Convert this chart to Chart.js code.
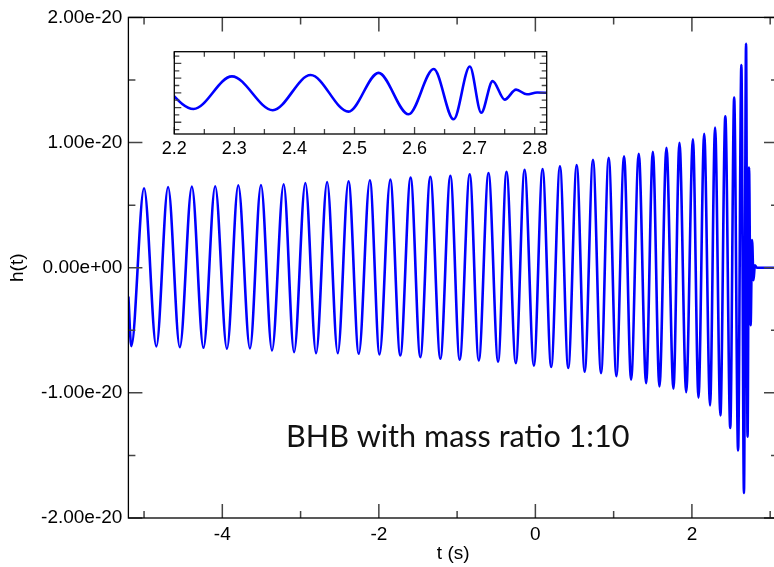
<!DOCTYPE html>
<html><head><meta charset="utf-8">
<script src="https://cdn.jsdelivr.net/npm/chart.js@4.4.0/dist/chart.umd.min.js"></script>
<style>
html,body{margin:0;padding:0;background:#fff;overflow:hidden;width:774px;height:567px;}
#main{position:absolute;left:0;top:0;}
#inset{position:absolute;left:150px;top:40px;}
</style></head><body>
<canvas id="main" width="790" height="567"></canvas>
<canvas id="inset" width="420" height="125"></canvas>
<script>
// waveform extrema: time (s) and strain (units of 1e-20)
const times = [-5.2, -5.163, -5.000, -4.843, -4.693, -4.543, -4.389, -4.241, -4.091, -3.941,
  -3.796, -3.647, -3.506, -3.365, -3.216, -3.083, -2.939, -2.802, -2.661, -2.525,
  -2.388, -2.256, -2.115, -1.991, -1.854, -1.726, -1.594, -1.470, -1.342, -1.214,
  -1.086, -0.967, -0.839, -0.723, -0.599, -0.476, -0.369, -0.250, -0.138, -0.019,
  0.092, 0.202, 0.314, 0.420, 0.528, 0.630, 0.736, 0.839, 0.937, 1.035,
  1.133, 1.223, 1.321, 1.415, 1.501, 1.585, 1.675, 1.764, 1.841, 1.927,
  2.013, 2.084, 2.157, 2.232, 2.296, 2.364, 2.427, 2.490, 2.540, 2.590,
  2.632, 2.665, 2.692, 2.711, 2.730, 2.750, 2.769, 2.787, 2.804, 2.830, 3.100];
const strain = [-0.23, -0.627, 0.635, -0.629, 0.645, -0.635, 0.648, -0.640, 0.651, -0.648,
  0.659, -0.645, 0.661, -0.661, 0.667, -0.675, 0.677, -0.683, 0.685, -0.683,
  0.691, -0.688, 0.699, -0.693, 0.704, -0.701, 0.720, -0.715, 0.727, -0.727,
  0.735, -0.735, 0.747, -0.741, 0.757, -0.751, 0.767, -0.763, 0.783, -0.783,
  0.789, -0.794, 0.810, -0.802, 0.821, -0.831, 0.863, -0.842, 0.879, -0.866,
  0.890, -0.895, 0.911, -0.922, 0.927, -0.948, 0.959, -0.967, 0.998, -0.994,
  1.025, -1.038, 1.07, -1.10, 1.12, -1.18, 1.21, -1.28, 1.36, -1.46,
  1.62, -1.80, 1.79, -1.35, 0.80, -0.46, 0.22, -0.10, 0.02, 0.0, 0.0];

const xMajorTicks = [-4, -2, 0, 2];
const xMinorTicks = [-5, -3, -1, 1, 3];
const yMajorTicks = [-2, -1, 0, 1, 2];
const yMinorTicks = [-1.5, -0.5, 0.5, 1.5];
const yTickLabels = ['-2.00e-20', '-1.00e-20', '0.00e+00', '1.00e-20', '2.00e-20'];

const insetXMajor = [2.2, 2.3, 2.4, 2.5, 2.6, 2.7, 2.8];
const insetXMinor = [2.25, 2.35, 2.45, 2.55, 2.65, 2.75];
const insetYMajor = [-2, -1, 0, 1, 2];
const insetYMinor = [-2.5, -1.5, -0.5, 0.5, 1.5, 2.5];

const annotationText = 'BHB with mass ratio 1:10';

const points = times.map((t, i) => ({x: t, y: strain[i]}));

const frameTicks = {
  id: 'frameTicks',
  beforeDraw(chart, args, o) {
    if (o.bg) {
      const a = chart.chartArea, ctx = chart.ctx;
      ctx.save(); ctx.fillStyle = o.bg;
      ctx.fillRect(a.left, a.top, a.right - a.left, a.bottom - a.top);
      ctx.restore();
    }
  },
  afterDraw(chart, args, o) {
    const {ctx, chartArea: a} = chart;
    const x = chart.scales.x, y = chart.scales.y;
    ctx.save();
    ctx.strokeStyle = o.tickColor; ctx.lineWidth = o.tickWidth;
    ctx.beginPath();
    const vx = (vals, len) => vals.forEach(v => {
      const p = x.getPixelForValue(v);
      ctx.moveTo(p, a.bottom); ctx.lineTo(p, a.bottom - len);
      ctx.moveTo(p, a.top); ctx.lineTo(p, a.top + len);
    });
    const vy = (vals, len) => vals.forEach(v => {
      const p = y.getPixelForValue(v);
      ctx.moveTo(a.left, p); ctx.lineTo(a.left + len, p);
      ctx.moveTo(a.right, p); ctx.lineTo(a.right - len, p);
    });
    vx(o.xMajor, o.majorLen); vx(o.xMinor, o.minorLen);
    vy(o.yMajor, o.majorLen); vy(o.yMinor, o.minorLen);
    ctx.stroke();
    ctx.strokeStyle = o.frameColor; ctx.lineWidth = o.frameWidth;
    ctx.strokeRect(a.left, a.top, a.right - a.left, a.bottom - a.top);
    if (o.text) {
      ctx.font = o.textFont; ctx.fillStyle = o.textColor;
      ctx.textBaseline = 'alphabetic'; ctx.textAlign = 'left';
      ctx.fillText(o.text, o.textX, o.textY);
    }
    ctx.restore();
  }
};

const tickFont = {family: "'Liberation Sans', Arial, sans-serif", size: 19};

new Chart(document.getElementById('main'), {
  type: 'line',
  data: {datasets: [{data: points, borderColor: '#0000ff', borderWidth: 2.6,
    cubicInterpolationMode: 'monotone', pointRadius: 0, fill: false}]},
  plugins: [frameTicks],
  options: {
    responsive: false, animation: false,
    layout: {padding: {left: 0, top: 16, right: 12, bottom: 0}},
    plugins: {
      legend: {display: false}, tooltip: {enabled: false},
      frameTicks: {xMajor: xMajorTicks, xMinor: xMinorTicks, yMajor: yMajorTicks, yMinor: yMinorTicks,
        majorLen: 14, minorLen: 7, tickColor: '#444', tickWidth: 1.5, frameColor: '#000', frameWidth: 1.3,
        text: annotationText, textFont: "30.6px Lato, 'Open Sans', sans-serif", textColor: '#111', textX: 286, textY: 447}
    },
    scales: {
      x: {type: 'linear', min: -5.2, max: 3.1,
        afterBuildTicks: s => { s.ticks = xMajorTicks.map(v => ({value: v})); },
        afterFit: s => { s.height = 49; },
        grid: {display: false, drawTicks: false}, border: {display: false},
        ticks: {font: tickFont, color: '#000', padding: 5, maxRotation: 0, autoSkip: false,
          callback: v => String(v)},
        title: {display: true, text: 't (s)', font: tickFont, color: '#000', padding: {top: 0, bottom: 2}}
      },
      y: {type: 'linear', min: -2, max: 2,
        afterBuildTicks: s => { s.ticks = yMajorTicks.map(v => ({value: v})); },
        afterFit: s => { s.width = 128.4; },
        grid: {display: false, drawTicks: false}, border: {display: false},
        ticks: {font: tickFont, color: '#000', padding: 6, autoSkip: false,
          callback: v => yTickLabels[yMajorTicks.indexOf(v)]},
        title: {display: true, text: 'h(t)', font: tickFont, color: '#000', padding: {top: 6, bottom: 0}}
      }
    }
  }
});

new Chart(document.getElementById('inset'), {
  type: 'line',
  data: {datasets: [{data: points, borderColor: '#0000ff', borderWidth: 2.6,
    cubicInterpolationMode: 'monotone', pointRadius: 0, fill: false}]},
  plugins: [frameTicks],
  options: {
    responsive: false, animation: false,
    layout: {padding: {left: 24.3, top: 11.7, right: 23.3, bottom: 0}},
    plugins: {
      legend: {display: false}, tooltip: {enabled: false},
      frameTicks: {xMajor: insetXMajor, xMinor: insetXMinor, yMajor: insetYMajor, yMinor: insetYMinor,
        majorLen: 7, minorLen: 5, tickColor: '#444', tickWidth: 1.3, frameColor: '#000', frameWidth: 1.3, bg: '#fff'}
    },
    scales: {
      x: {type: 'linear', min: 2.2, max: 2.82,
        afterBuildTicks: s => { s.ticks = insetXMajor.map(v => ({value: v})); },
        afterFit: s => { s.height = 31; },
        grid: {display: false, drawTicks: false}, border: {display: false},
        ticks: {font: {family: tickFont.family, size: 18}, color: '#000', padding: 4, maxRotation: 0, autoSkip: false,
          callback: v => v.toFixed(1)}
      },
      y: {type: 'linear', min: -2.8, max: 2.8, display: false}
    }
  }
});
</script>
</body></html>
